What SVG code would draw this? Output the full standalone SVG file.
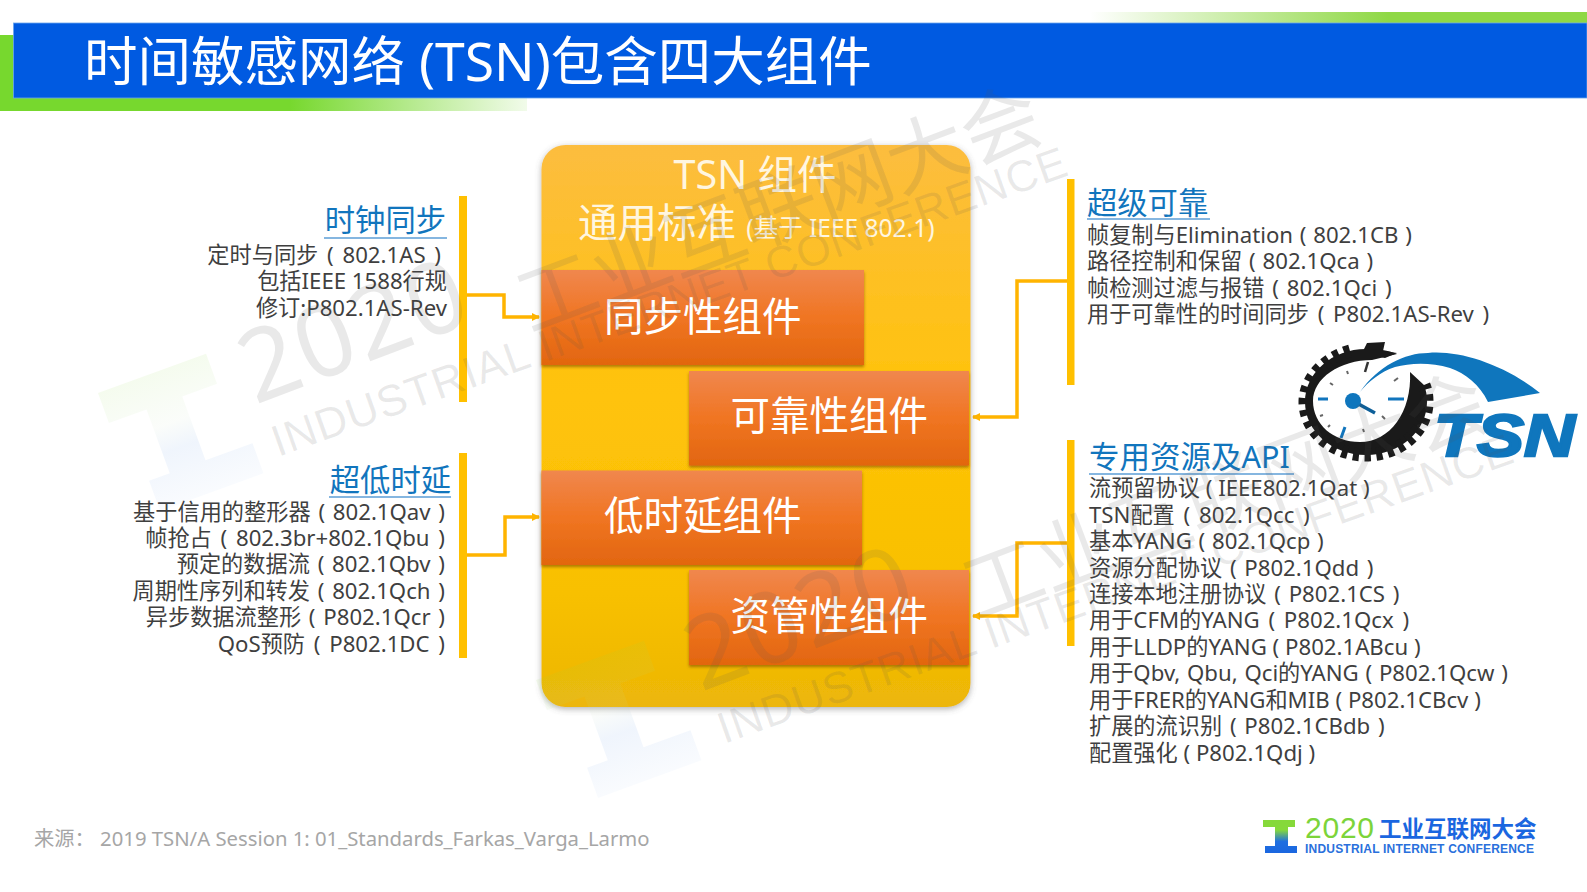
<svg xmlns="http://www.w3.org/2000/svg" width="1587" height="892" viewBox="0 0 1587 892">
<style>
text{font-family:"Noto Sans","Noto Sans CJK SC",sans-serif}
.h{font-size:30.300px;fill:#1175bd}
.h2{font-size:30.500px;fill:#1175bd}
.b{font-size:22.200px;fill:#3f3f3f;word-spacing:3px}
.w0{word-spacing:0}
.w1{word-spacing:1px}
.w2{word-spacing:2px}
.e{text-anchor:end}
.u{stroke:#5c9ed6;stroke-width:1.6;fill:none}
.bar{fill:#ffc000}
.c{fill:none;stroke:#ffb400;stroke-width:3.5;marker-end:url(#ah)}
.box{filter:url(#sh);fill:url(#og)}
.bt{font-size:39.500px;fill:#fff}
.pt{font-size:39.500px;fill:#fff6e0}
.wm{font-family:"Noto Sans CJK SC",sans-serif;fill:#555;fill-opacity:.13}
.wd{font-family:"Noto Sans",sans-serif;fill:#555;fill-opacity:.13;letter-spacing:2px}
.wi{font-family:"Liberation Sans",sans-serif;fill:#555;fill-opacity:.13}
.tick{stroke:#666;stroke-width:2;fill:none}
.tb{stroke:#1175bd;stroke-width:3;fill:none}
</style>
<defs>
<linearGradient id="gl" x1="0" x2="1" y1="0" y2="0"><stop offset="0" stop-color="#77d82e"/><stop offset=".55" stop-color="#77d82e"/><stop offset="1" stop-color="#77d82e" stop-opacity=".1"/></linearGradient>
<linearGradient id="gr" x1="0" x2="1" y1="0" y2="0"><stop offset="0" stop-color="#8fd845" stop-opacity="0"/><stop offset=".6" stop-color="#8fd845"/><stop offset="1" stop-color="#8fd845"/></linearGradient>
<linearGradient id="pg" x1="0" x2="0" y1="0" y2="1"><stop offset="0" stop-color="#fcbd3f"/><stop offset=".45" stop-color="#ffc30a"/><stop offset=".8" stop-color="#f8c000"/><stop offset="1" stop-color="#ecb608"/></linearGradient>
<linearGradient id="og" x1="0" x2="0" y1="0" y2="1"><stop offset="0" stop-color="#f0874e"/><stop offset=".5" stop-color="#f07522"/><stop offset="1" stop-color="#e2660f"/></linearGradient>
<linearGradient id="lg" x1="0" x2="0" y1="0" y2="1"><stop offset="0" stop-color="#86d93a"/><stop offset=".3" stop-color="#86d93a"/><stop offset=".65" stop-color="#1f6fe0"/><stop offset="1" stop-color="#1a66e0"/></linearGradient>
<linearGradient id="wg" x1="0" x2="0" y1="0" y2="1"><stop offset="0" stop-color="#8fd845" stop-opacity=".09"/><stop offset=".4" stop-color="#c8e0c0" stop-opacity=".08"/><stop offset=".6" stop-color="#3d80e0" stop-opacity=".08"/><stop offset="1" stop-color="#3d80e0" stop-opacity=".03"/></linearGradient>
<filter id="sh" x="-5%" y="-5%" width="110%" height="115%"><feDropShadow dx="0" dy="2" stdDeviation="1.5" flood-color="#7a4a00" flood-opacity=".6"/></filter>
<filter id="ps" x="-5%" y="-5%" width="110%" height="110%"><feDropShadow dx="0" dy="2" stdDeviation="3" flood-color="#555" flood-opacity=".45"/></filter>
<marker id="ah" markerUnits="userSpaceOnUse" markerWidth="12" markerHeight="12" refX="9" refY="6" orient="auto"><path d="M2 2L10 6L2 10z" fill="#ffb400"/></marker>
<g id="wt"><path d="M0 0H115V32H78V100H128V132H18V100H40V32H0z" fill="url(#wg)"/></g>
</defs>

<g id="title">
<rect x="0" y="35" width="527" height="76" fill="url(#gl)"/>
<rect x="1090" y="12" width="497" height="12" fill="url(#gr)"/>
<rect x="13.500" y="23" width="1573.500" height="75" fill="#005ae1" stroke="#6aa5ee" stroke-width=".8"/>
<text x="84" y="81" style="font-size:53.500px;fill:#fff">时间敏感网络 (TSN)包含四大组件</text>
</g>

<g id="connectors">
<path class="c" d="M467 295H504V317H539"/>
<path class="c" d="M467 555H505V517H539"/>
<path class="c" d="M1067 281H1017V417H973"/>
<path class="c" d="M1067 543H1017V616H973"/>
</g>

<g id="node-panel">
<rect x="541.500" y="145" width="429" height="562" rx="24" fill="url(#pg)" filter="url(#ps)"/>
<text x="755" y="189" text-anchor="middle" class="pt">TSN 组件</text>
<text x="578" y="237" class="pt">通用标准 <tspan style="font-size:24.500px">(基于 IEEE 802.1)</tspan></text>
</g>
<g id="node-sync"><rect class="box" x="541.500" y="270" width="322.500" height="95"/><text class="bt" x="604" y="331">同步性组件</text></g>
<g id="node-reliable"><rect class="box" x="689" y="371" width="280" height="94.500"/><text class="bt" x="730.500" y="430">可靠性组件</text></g>
<g id="node-latency"><rect class="box" x="541.500" y="470.500" width="320.500" height="94.500"/><text class="bt" x="604" y="530">低时延组件</text></g>
<g id="node-resource"><rect class="box" x="689" y="570" width="280" height="95"/><text class="bt" x="730.500" y="630">资管性组件</text></g>

<g id="node-clock">
<rect class="bar" x="459" y="196" width="8" height="206"/>
<text class="h e" x="446" y="231">时钟同步</text>
<path class="u" d="M324 238H447"/>
<text class="b e" x="441" y="263">定时与同步 ( 802.1AS )</text>
<text class="b e w0" x="447" y="289">包括IEEE 1588行规</text>
<text class="b e" x="447" y="316">修订:P802.1AS-Rev</text>
</g>

<g id="node-lowlat">
<rect class="bar" x="459" y="453" width="8" height="205"/>
<text class="h e" x="451" y="491">超低时延</text>
<path class="u" d="M329 497H451"/>
<text class="b e w2" x="445" y="520">基于信用的整形器 ( 802.1Qav )</text>
<text class="b e" x="445" y="546">帧抢占 ( 802.3br+802.1Qbu )</text>
<text class="b e w2" x="445" y="572">预定的数据流 ( 802.1Qbv )</text>
<text class="b e w2" x="445" y="599">周期性序列和转发 ( 802.1Qch )</text>
<text class="b e w2" x="445" y="625">异步数据流整形 ( P802.1Qcr )</text>
<text class="b e" x="445" y="652">QoS预防 ( P802.1DC )</text>
</g>

<g id="node-ultra">
<rect class="bar" x="1067" y="179" width="7.500" height="206"/>
<text class="h" x="1087" y="214">超级可靠</text>
<path class="u" d="M1087 219H1210"/>
<text class="b w1" x="1087" y="243">帧复制与Elimination ( 802.1CB )</text>
<text class="b w1" x="1087" y="269">路径控制和保留 ( 802.1Qca )</text>
<text class="b w2" x="1087" y="296">帧检测过滤与报错 ( 802.1Qci )</text>
<text class="b" x="1087" y="322">用于可靠性的时间同步 ( P802.1AS-Rev )</text>
</g>

<g id="node-api">
<rect class="bar" x="1067" y="440" width="7.500" height="206"/>
<text class="h2" x="1089" y="468">专用资源及API</text>
<path class="u" d="M1089 474H1294"/>
<text class="b w0" x="1089" y="496">流预留协议 ( IEEE802.1Qat )</text>
<text class="b" x="1089" y="523">TSN配置 ( 802.1Qcc )</text>
<text class="b w1" x="1089" y="549">基本YANG ( 802.1Qcp )</text>
<text class="b w2" x="1089" y="576">资源分配协议 ( P802.1Qdd )</text>
<text class="b w2" x="1089" y="602">连接本地注册协议 ( P802.1CS )</text>
<text class="b" x="1089" y="628">用于CFM的YANG ( P802.1Qcx )</text>
<text class="b w0" x="1089" y="655">用于LLDP的YANG ( P802.1ABcu )</text>
<text class="b w1" x="1089" y="681">用于Qbv, Qbu, Qci的YANG ( P802.1Qcw )</text>
<text class="b w0" x="1089" y="708">用于FRER的YANG和MIB ( P802.1CBcv )</text>
<text class="b w2" x="1089" y="734">扩展的流识别 ( P802.1CBdb )</text>
<text class="b w0" x="1089" y="761">配置强化 ( P802.1Qdj )</text>
</g>

<g id="node-tsnlogo">
<path d="M1360 392C1378 366 1405 353 1428 353C1460 350 1505 365 1540 393L1488 402C1480 385 1465 373 1450 368C1430 362 1410 363 1395 367C1380 372 1368 382 1360 392z" fill="#0f76bd"/>
<path d="M1367 343L1385 342L1383 351L1397 353L1385 358L1362 353z" fill="#1a1a1a"/>
<path d="M1397 354C1388 350 1378 349 1366 349C1332 349 1305 373 1305 402C1305 431 1332 455 1366 455C1400 455 1427 431 1427 402C1427 395 1426 390 1424 385L1410 372C1412 412 1390 442 1360 442C1333 442 1313 424 1313 401C1313 378 1340 360 1372 360z" fill="#1a1a1a"/>
<path d="M1350 351C1325 358 1305 378 1305 402C1305 431 1332 455 1366 455C1400 455 1427 431 1427 402C1427 395 1426 390 1424 385" fill="none" stroke="#1a1a1a" stroke-width="13" stroke-dasharray="6 5.500"/>
<path class="tb" d="M1318 399H1328M1388 399H1404M1345 427L1341 438"/>
<path class="tick" d="M1368 362L1365 372" style="stroke:#333;stroke-width:2.500"/>
<path class="tick" d="M1347 371L1348 374M1330 383L1333 385M1320 416L1323 415M1328 427L1330 425M1363 429L1364 432M1382 416L1385 419M1394 381L1398 378"/>
<path d="M1353 401L1375 413" stroke="#0d5f99" stroke-width="3.500"/>
<circle cx="1353" cy="401" r="8" fill="#0f76bd"/>
<text x="1434" y="456" textLength="141" lengthAdjust="spacingAndGlyphs" style="font-family:'Liberation Sans',sans-serif;font-weight:700;font-style:italic;font-size:60px;fill:#0f76bd;stroke:#0f76bd;stroke-width:2.500">TSN</text>
</g>

<g id="source">
<text x="34" y="846" style="font-size:20.300px;fill:#a6a6a6">来源： 2019 TSN/A Session 1: 01_Standards_Farkas_Varga_Larmo</text>
</g>

<g id="conference-logo">
<path d="M1263 820H1295V827H1288V846H1297V853H1265V846H1275V827H1263z" fill="url(#lg)"/>
<text x="1305" y="838" textLength="69" style="font-family:'Liberation Sans',sans-serif;font-size:30px;fill:#7cd43a">2020</text>
<text x="1379" y="837" style="font-family:'Noto Sans CJK SC',sans-serif;font-weight:700;font-size:22.500px;fill:#1a66e0">工业互联网大会</text>
<text x="1305" y="853" textLength="229" style="font-family:'Liberation Sans',sans-serif;font-weight:700;font-size:12px;fill:#2a70dc">INDUSTRIAL INTERNET CONFERENCE</text>
</g>

<g id="watermark">
<use href="#wt" transform="translate(98 393) rotate(-20)"/>
<text class="wd" transform="translate(255 405) rotate(-20.800)" style="font-size:100px">2020</text>
<text class="wm" transform="translate(530 333) rotate(-20.700)" style="font-size:79px">工业互联网大会</text>
<text class="wi" transform="translate(278 457) rotate(-19.600)" textLength="841" style="font-size:44px">INDUSTRIAL INTERNET CONFERENCE</text>
<use href="#wt" transform="translate(536 680) rotate(-20)"/>
<text class="wd" transform="translate(701 692) rotate(-20.800)" style="font-size:100px">2020</text>
<text class="wm" transform="translate(976 620) rotate(-20.700)" style="font-size:79px">工业互联网大会</text>
<text class="wi" transform="translate(724 744) rotate(-19.600)" textLength="841" style="font-size:44px">INDUSTRIAL INTERNET CONFERENCE</text>
</g>
</svg>
